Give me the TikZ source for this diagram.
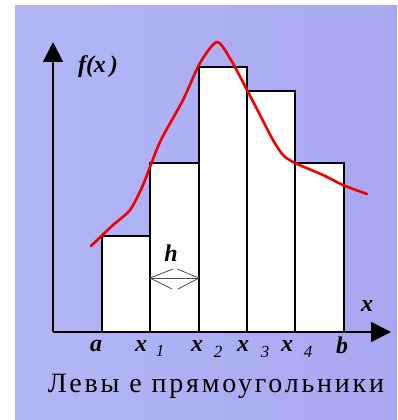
\documentclass[tikz,border=0pt]{standalone}
\usepackage{fontspec}
\setmainfont{Liberation Serif}
\usetikzlibrary{arrows.meta}
\definecolor{bgleft}{RGB}{178,182,245}
\definecolor{bgright}{RGB}{168,168,242}
\definecolor{curvered}{RGB}{240,0,0}
\begin{document}
\begin{tikzpicture}[x=1pt,y=-1pt,
  bar/.style={draw=black,fill=white,line width=1.4pt},
  axis/.style={draw=black,line width=1.8pt,-{Triangle[width=20pt,length=20pt]}},
  lbl/.style={font=\bfseries\itshape\fontsize{24}{24}\selectfont,inner sep=0pt},
  sub/.style={font=\itshape\fontsize{17}{17}\selectfont,inner sep=0pt},
  harrow/.style={draw=black!70,line width=0.8pt}]
\useasboundingbox (0,0) rectangle (397,420);
\fill[white] (0,0) rectangle (397,420);
\shade[left color=bgleft,right color=bgright] (15,6) rectangle (397,420);
% rectangles
\draw[bar] (102,332) rectangle (150,236);
\draw[bar] (150,332) rectangle (199,163);
\draw[bar] (199,332) rectangle (247,67);
\draw[bar] (247,332) rectangle (295,91);
\draw[bar] (295,332) rectangle (344,163);
% axes
\coordinate (O) at (53,332);
\coordinate (ytip) at (53,42);
\coordinate (xtip) at (391,332);
\draw[axis] (O) -- (ytip);
\draw[axis] (O) -- (xtip);
% h arrow
\coordinate (hl) at (150,278);
\coordinate (hr) at (199,278);
\draw[harrow] (hl) -- (hr);
\draw[harrow] (173,269) -- (hl) -- (172,289);
\draw[harrow] (177,269) -- (hr) -- (178,289);
\node[lbl] (h) at (171,253) {h};
% curve
\draw[curvered,line width=2.6pt,line cap=round,line join=round] plot[smooth,tension=0.45] coordinates {
 (91,246) (113,225) (130,210) (143,185) (160,142) (183,100) (200,63) (217,42) (231,60) (247,90) (260,115) (273,140) (283,155) (295,163) (323,175) (343,185) (367,194)};
% labels
\node[lbl] (fx) at (98,67) {f(x\,)};
\node[lbl] (xl) at (367,306) {x};
\node[lbl] (la) at (96,346) {a};
\node[lbl] (lx1) at (141,346) {x};
\node[sub] (l1) at (160,351) {1};
\node[lbl] (lx2) at (197,346) {x};
\node[sub] (l2) at (218,352) {2};
\node[lbl] (lx3) at (243,346) {x};
\node[sub] (l3) at (265,352) {3};
\node[lbl] (lx4) at (287,346) {x};
\node[sub] (l4) at (308,352) {4};
\node[lbl] (lb) at (342,345) {b};
\node[font=\fontsize{28}{28}\selectfont\addfontfeature{LetterSpace=10},inner sep=0pt] (title) at (216,386) {Левы е прямоугольники};
\end{tikzpicture}
\end{document}
